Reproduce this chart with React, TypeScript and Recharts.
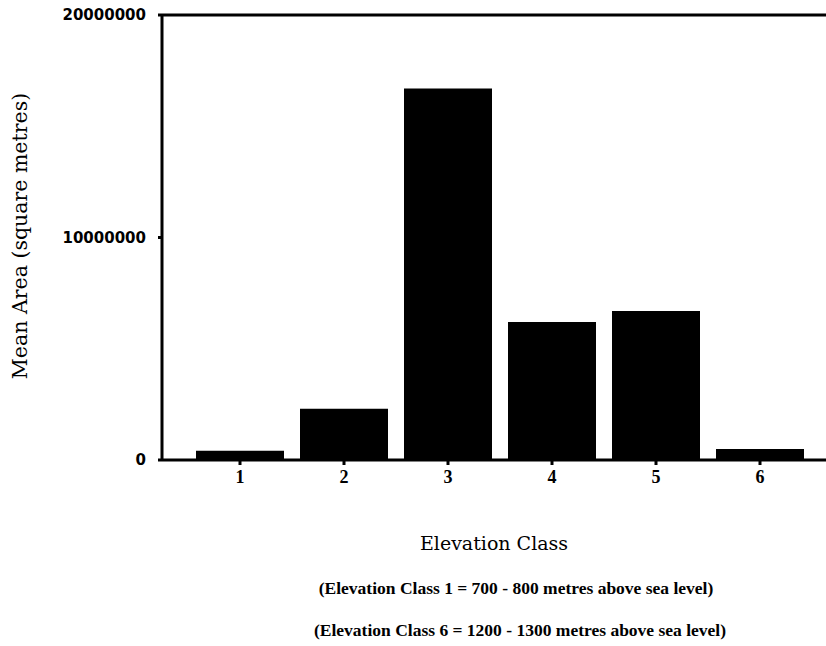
import React from "react";
import { BarChart, Bar, XAxis, YAxis } from "recharts";

const categories = ["1", "2", "3", "4", "5", "6"];
const meanArea = [420000, 2300000, 16700000, 6200000, 6700000, 500000];
const yTicks = [0, 10000000, 20000000];

const data = categories.map((c, i) => ({ cls: c, area: meanArea[i] }));

const serif = "'DejaVu Serif', serif";

export default function App() {
  return (
    <div style={{ position: "absolute", left: 0, top: 0, width: 826, height: 646, overflow: "hidden", background: "#fff" }}>
      <BarChart
        width={860}
        height={646}
        data={data}
        margin={{ top: 14, right: 0, bottom: 156, left: 0 }}
        barCategoryGap={8}
      >
        <XAxis
          xAxisId="top"
          orientation="top"
          dataKey="cls"
          height={1}
          tick={false}
          tickLine={false}
          axisLine={{ stroke: "#000", strokeWidth: 3 }}
          padding={{ left: 26, right: 48 }}
        />
        <XAxis
          dataKey="cls"
          height={30}
          axisLine={{ stroke: "#000", strokeWidth: 3 }}
          tickLine={{ stroke: "#000", strokeWidth: 3 }}
          tickSize={5}
          tickMargin={5}
          tick={{ fill: "#000", fontFamily: "'Liberation Serif', serif", fontWeight: "bold", fontSize: 18 }}
          padding={{ left: 26, right: 48 }}
        />
        <YAxis
          width={162}
          domain={[0, 20000000]}
          ticks={yTicks}
          interval={0}
          axisLine={{ stroke: "#000", strokeWidth: 3 }}
          tickLine={{ stroke: "#000", strokeWidth: 3 }}
          tickSize={4}
          tickMargin={12}
          tick={{ fill: "#000", fontFamily: "'DejaVu Sans', sans-serif", fontWeight: "bold", fontSize: 15 }}
        />
        <Bar dataKey="area" fill="#000" isAnimationActive={false} />
      </BarChart>
      <div
        style={{
          position: "absolute",
          left: 20,
          top: 236,
          transform: "translate(-50%, -50%) rotate(-90deg)",
          whiteSpace: "nowrap",
          fontFamily: serif,
          fontSize: 20.5,
          color: "#000",
        }}
      >
        Mean Area (square metres)
      </div>
      <div
        style={{
          position: "absolute",
          left: 494,
          top: 543,
          transform: "translate(-50%, -50%)",
          whiteSpace: "nowrap",
          fontFamily: serif,
          fontSize: 19,
          color: "#000",
        }}
      >
        Elevation Class
      </div>
      <div
        style={{
          position: "absolute",
          left: 516,
          top: 588,
          transform: "translate(-50%, -50%)",
          whiteSpace: "nowrap",
          fontFamily: "'Liberation Serif', serif",
          fontWeight: "bold",
          fontSize: 17.5,
          color: "#000",
        }}
      >
        (Elevation Class 1 = 700 - 800 metres above sea level)
      </div>
      <div
        style={{
          position: "absolute",
          left: 520,
          top: 630,
          transform: "translate(-50%, -50%)",
          whiteSpace: "nowrap",
          fontFamily: "'Liberation Serif', serif",
          fontWeight: "bold",
          fontSize: 17.5,
          color: "#000",
        }}
      >
        (Elevation Class 6 = 1200 - 1300 metres above sea level)
      </div>
    </div>
  );
}
